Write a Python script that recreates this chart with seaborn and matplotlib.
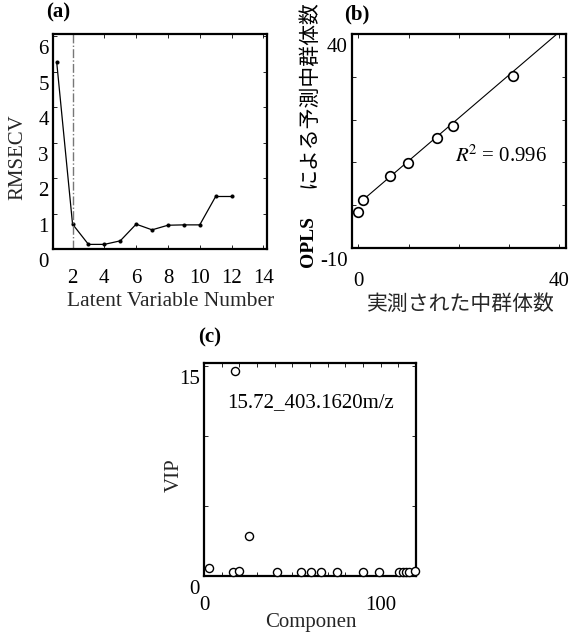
import numpy as np
import pandas as pd
import matplotlib
matplotlib.use("Agg")
import matplotlib.pyplot as plt
from matplotlib.transforms import ScaledTranslation
import seaborn as sns

# ---------------- data ----------------
latent_vars = [1, 2, 3, 4, 5, 6, 7, 8, 9, 10, 11, 12]
rmsecv = [5.28, 0.70, 0.13, 0.13, 0.23, 0.70, 0.54, 0.67, 0.68, 0.68, 1.48, 1.48]
chosen_lv = 2

measured = [0.0, 0.9, 6.4, 9.9, 15.6, 18.8, 30.8]
predicted = [-1.6, 1.1, 6.9, 9.8, 15.6, 18.5, 30.3]
fit_slope = 1.005
fit_intercept = 0.3
fit_x = [0.3, 39.6]
r2_text = r"$R^{\!2}$ = 0.996"

component = [2.8, 17.5, 16.2, 20.0, 25.3, 41.1, 54.7, 60.4, 66.0, 75.1,
             89.8, 98.9, 110.5, 112.4, 114.3, 116.2, 119.4]
vip = [0.55, 14.6, 0.22, 0.32, 2.8, 0.22, 0.25, 0.26, 0.26, 0.25,
       0.22, 0.22, 0.23, 0.23, 0.24, 0.25, 0.32]
vip_note = "15.72_403.1620m/z"

ylabel_b_latin = "OPLS"
ylabel_b_cjk = "による予測中群体数"
xlabel_b = "実測された中群体数"

# ---------------- style ----------------
sns.set_style("ticks")
plt.rcParams["font.family"] = ["Liberation Serif", "Noto Sans CJK JP", "DejaVu Sans"]
plt.rcParams["mathtext.fontset"] = "stix"
plt.rcParams["axes.linewidth"] = 1.6
plt.rcParams["xtick.direction"] = "in"
plt.rcParams["ytick.direction"] = "in"
plt.rcParams["xtick.major.size"] = 3
plt.rcParams["ytick.major.size"] = 3
plt.rcParams["xtick.major.width"] = 0.6
plt.rcParams["ytick.major.width"] = 0.6
plt.rcParams["axes.edgecolor"] = "black"
plt.rcParams["text.color"] = "black"
plt.rcParams["xtick.color"] = "black"
plt.rcParams["ytick.color"] = "black"

FS = 15
W, H = 575, 634
fig = plt.figure(figsize=(W / 100, H / 100), dpi=100)


def axes_px(left, top, right, bottom):
    return fig.add_axes([left / W, 1 - bottom / H, (right - left) / W, (bottom - top) / H])


def shift_ylabels(ax, dy_px=-11):
    off = ScaledTranslation(0, dy_px / 100, fig.dpi_scale_trans)
    for lab in ax.get_yticklabels():
        lab.set_transform(lab.get_transform() + off)


def fmt_ticks(ax, xt, xl, yt, yl, xpad):
    ax.set_xticks(xt)
    ax.set_xticklabels(xl, fontsize=FS)
    ax.set_yticks(yt)
    ax.set_yticklabels(yl, fontsize=FS)
    ax.tick_params(which="both", direction="in", top=True, right=True)
    ax.tick_params(axis="x", pad=xpad)
    ax.tick_params(axis="y", pad=3)
    for s in ax.spines.values():
        s.set_visible(True)
        s.set_linewidth(1.6)


def set_labels(ax, xlabel, xpos, ylabel, ypos, xfs=FS, yfs=FS):
    ax.set_xlabel(xlabel, fontsize=xfs, va="center", ha="center")
    ax.xaxis.set_label_coords(*xpos)
    ax.set_ylabel(ylabel, fontsize=yfs, va="center", ha="center")
    ax.yaxis.set_label_coords(*ypos)


def panel_tag(ax, tag, pos):
    ax.text(pos[0], pos[1], tag, transform=ax.transAxes, fontsize=FS,
            fontweight="bold", ha="center", va="center")


# ---------------- (a) ----------------
ax1 = axes_px(53, 34, 267, 249)
df_a = pd.DataFrame({"lv": latent_vars, "rmsecv": rmsecv})
sns.lineplot(data=df_a, x="lv", y="rmsecv", ax=ax1, color="black", lw=0.9,
             marker="o", markersize=2.2, markeredgecolor="black")
ax1.axvline(chosen_lv, color="#777777", lw=1.0, ls="-.")
ax1.set_xlim(0.77, 14.23)
ax1.set_ylim(0, 6.06)
fmt_ticks(ax1, [2, 4, 6, 8, 10, 12, 14], ["2", "4", "6", "8", "10", "12", "14"],
          [0, 1, 2, 3, 4, 5, 6], ["0", "1", "2", "3", "4", "5", "6"], xpad=14.5)
set_labels(ax1, "Latent Variable Number", (0.551, -0.245),
           "RMSECV", (-0.164, 0.428), xfs=15.5)
panel_tag(ax1, "(a)", (0.023, 1.10))
shift_ylabels(ax1)

# ---------------- (b) ----------------
ax2 = axes_px(352, 34, 566, 248)
df_b = pd.DataFrame({"measured": measured, "predicted": predicted})
fx = np.array(fit_x)
ax2.plot(fx, fit_slope * fx + fit_intercept, color="black", lw=0.8)
sns.scatterplot(data=df_b, x="measured", y="predicted", ax=ax2, s=48,
                facecolor="white", edgecolor="black", linewidth=1.2, zorder=3)
ax2.text(19.3, 11.4, r2_text, fontsize=FS, va="center", ha="left")
ax2.set_xlim(-1.25, 41.3)
ax2.set_ylim(-10, 40)
fmt_ticks(ax2, [0, 10, 20, 30, 40], ["0", "", "", "", "40"],
          [-10, 0, 10, 20, 30, 40], ["-10", "", "", "", "", "40"], xpad=17.5)
ax2.set_xlabel(xlabel_b, fontsize=FS, va="center", ha="center")
ax2.xaxis.set_label_coords(0.51, -0.266)
ax2.set_ylabel("")
ax2.text(-0.201, -0.089, ylabel_b_latin, transform=ax2.transAxes, rotation=90,
         fontsize=14, fontweight="bold", ha="center", va="bottom")
ax2.text(-0.201, 0.280, ylabel_b_cjk, transform=ax2.transAxes, rotation=90,
         fontsize=15, ha="center", va="bottom")
panel_tag(ax2, "(b)", (0.023, 1.089))
shift_ylabels(ax2)

# ---------------- (c) ----------------
ax3 = axes_px(204, 363, 416, 575.5)
df_c = pd.DataFrame({"component": component, "vip": vip})
sns.scatterplot(data=df_c, x="component", y="vip", ax=ax3, s=34,
                facecolor="white", edgecolor="black", linewidth=1.0,
                zorder=3, clip_on=False)
ax3.text(13, 12.4, vip_note, fontsize=FS, va="center", ha="left")
ax3.set_xlim(0, 120)
ax3.set_ylim(0, 15.2)
xt = list(range(0, 121, 10))
fmt_ticks(ax3, xt, ["0" if v == 0 else ("100" if v == 100 else "") for v in xt],
          [0, 5, 10, 15], ["0", "", "", "15"], xpad=14.5)
set_labels(ax3, "Componen", (0.505, -0.2235), "VIP", (-0.14, 0.473))
panel_tag(ax3, "(c)", (0.028, 1.122))
shift_ylabels(ax3)

fig.savefig("out.png", dpi=100)
